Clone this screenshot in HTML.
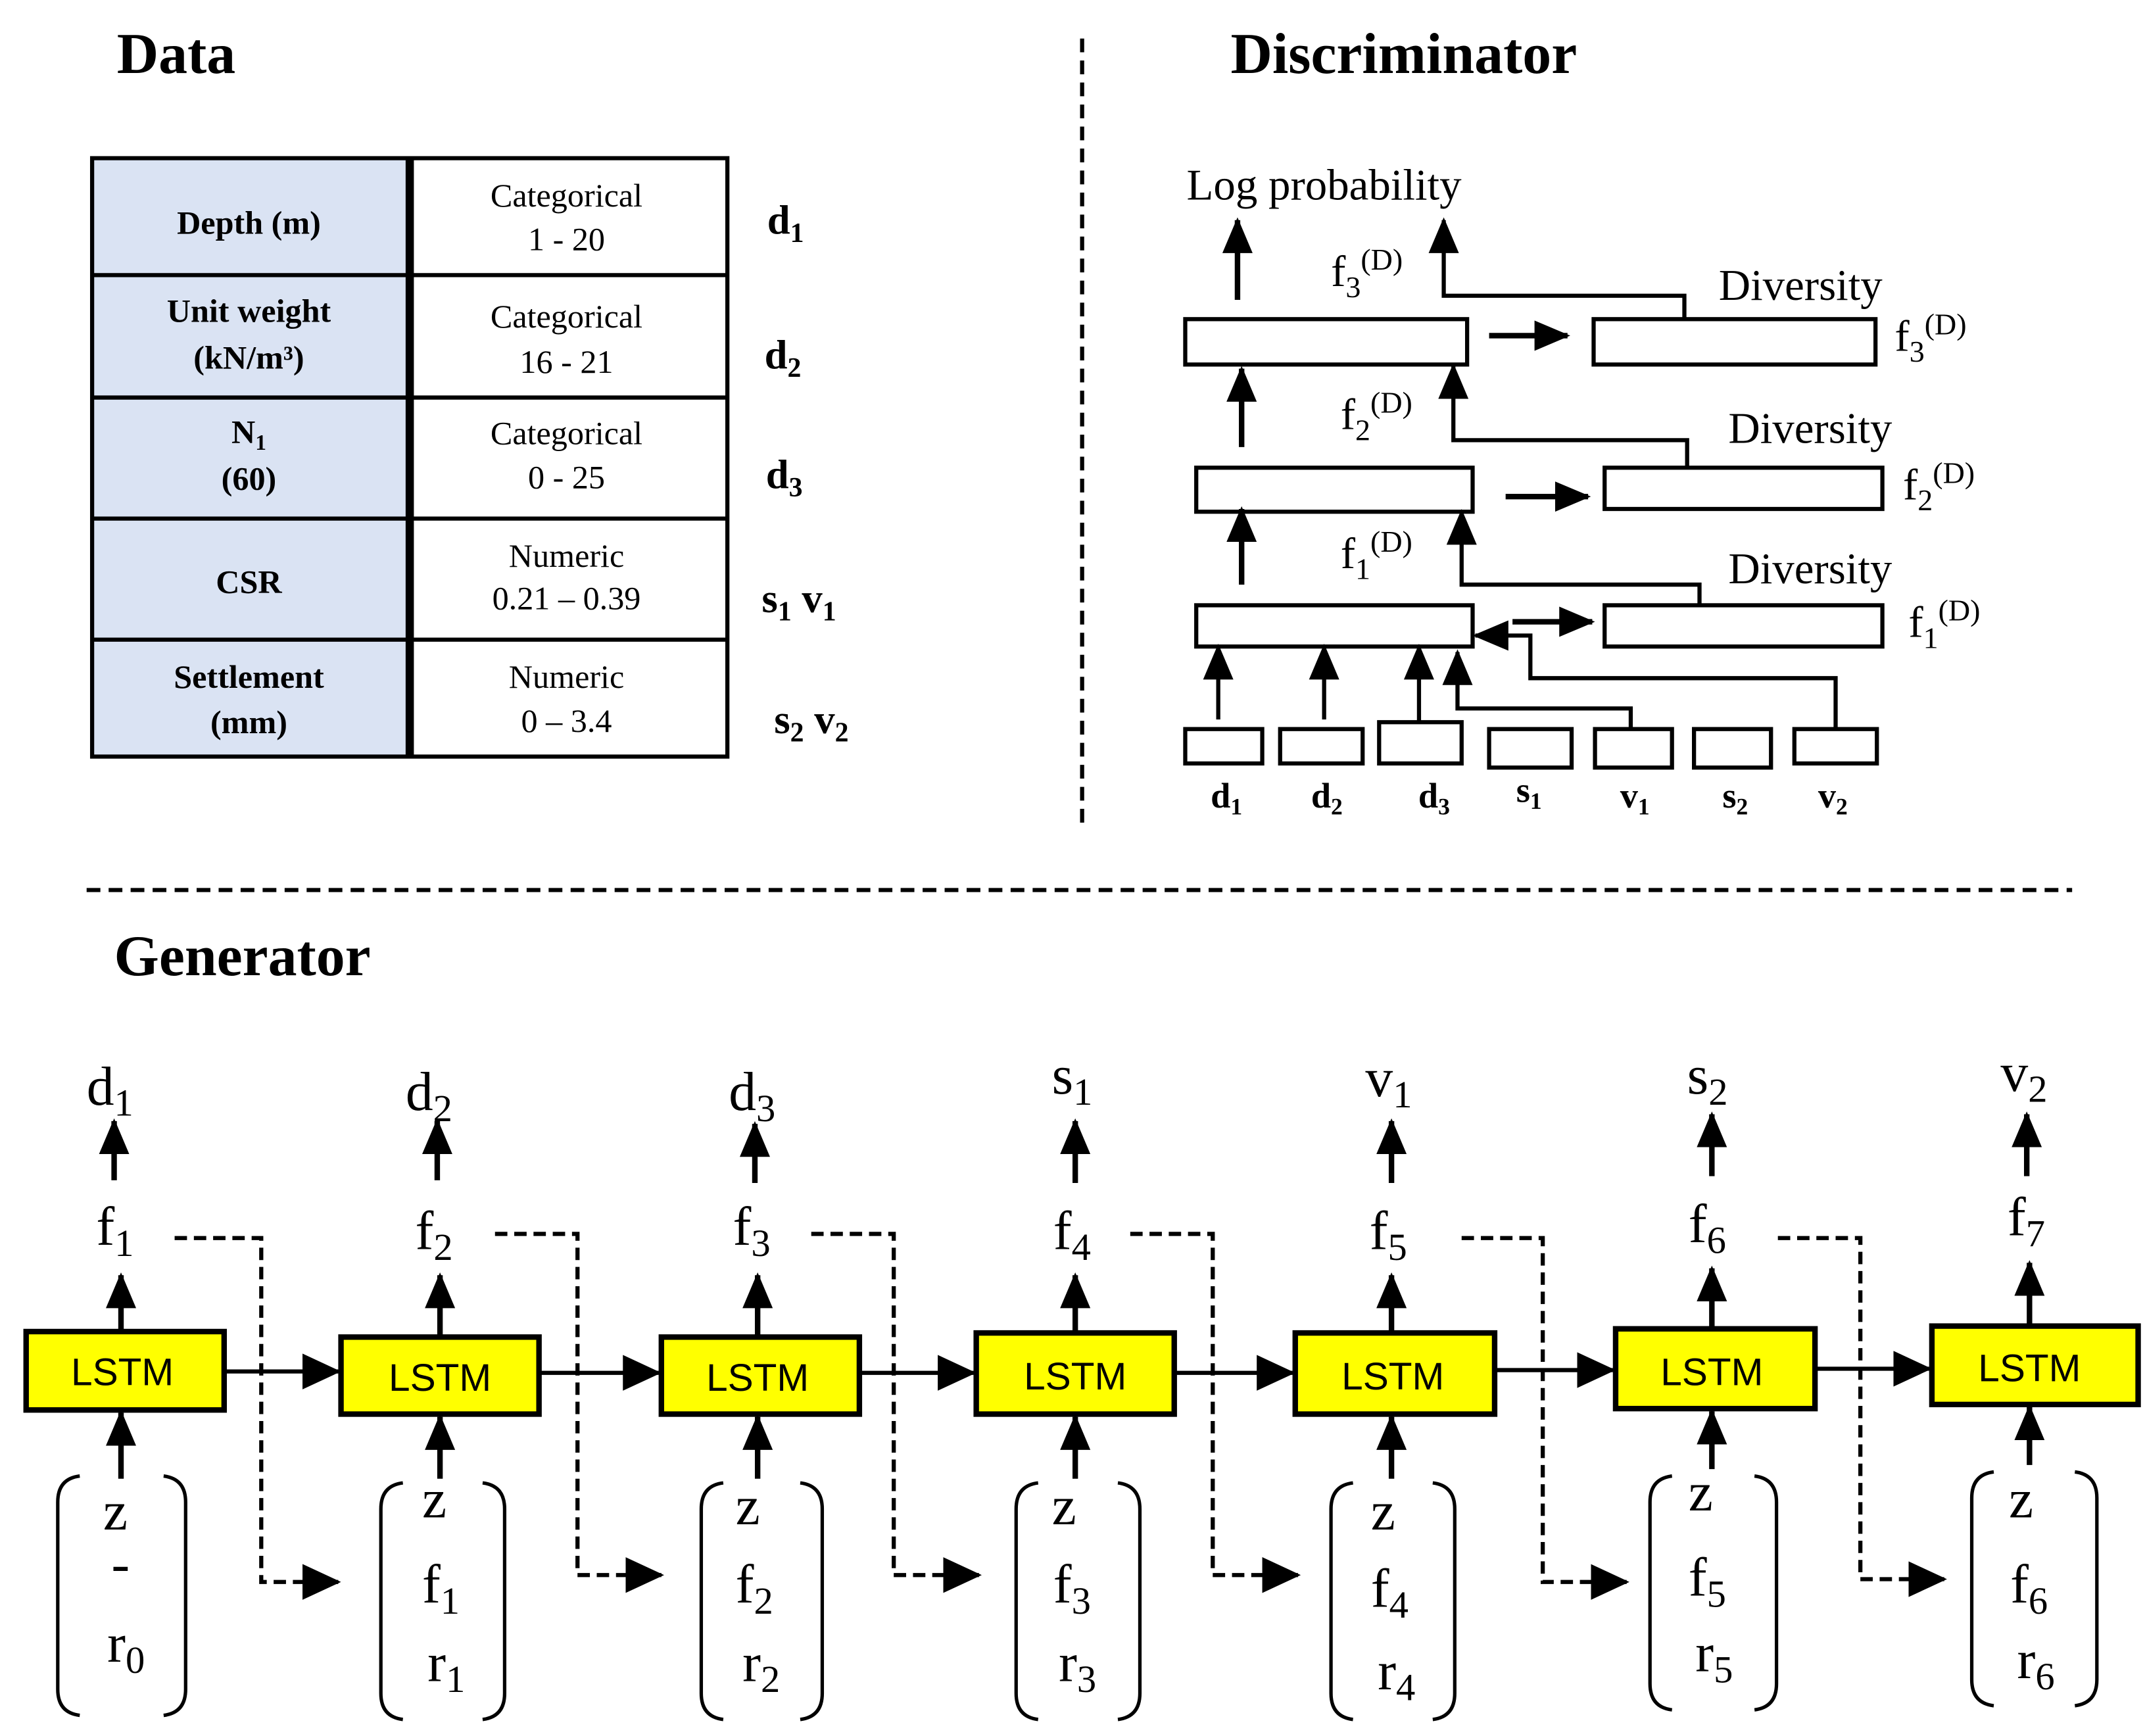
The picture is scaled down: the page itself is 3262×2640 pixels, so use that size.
<!DOCTYPE html>
<html><head><meta charset="utf-8"><style>
html,body{margin:0;padding:0;background:#fff;}
svg{display:block;}
text{font-family:"Liberation Serif","DejaVu Serif",serif;fill:#000;}
.b{font-weight:bold;}
</style></head><body>
<svg width="3262" height="2640" viewBox="0 0 1560 1262" preserveAspectRatio="none" xmlns="http://www.w3.org/2000/svg">
<defs>
<marker id="a" markerUnits="userSpaceOnUse" markerWidth="30" markerHeight="30" refX="26" refY="13" orient="auto"><path d="M0,0 L28,13 L0,26 Z" fill="#000"/></marker>
<marker id="s" markerUnits="userSpaceOnUse" markerWidth="28" markerHeight="26" refX="24" refY="11" orient="auto"><path d="M0,0 L26,11 L0,22 Z" fill="#000"/></marker>
</defs>
<rect width="1560" height="1262" fill="#fff"/>

<!-- Titles -->
<text x="85" y="53" class="b" font-size="42">Data</text>
<text x="895" y="53" class="b" font-size="42">Discriminator</text>
<text x="83" y="709" class="b" font-size="42">Generator</text>

<!-- dashed separators -->
<line x1="787" y1="28" x2="787" y2="603" stroke="#000" stroke-width="3" stroke-dasharray="10,6"/>
<line x1="63" y1="647" x2="1507" y2="647" stroke="#000" stroke-width="3" stroke-dasharray="10,6"/>

<!-- Table -->
<rect x="67" y="115" width="231" height="435" fill="#dae3f3"/>
<rect x="298" y="115" width="231" height="435" fill="#fff"/>
<g stroke="#000" stroke-width="3" fill="none">
<rect x="67" y="115" width="462" height="435"/>
<line x1="298" y1="115" x2="298" y2="550" stroke-width="6"/>
<line x1="67" y1="200" x2="529" y2="200"/>
<line x1="67" y1="289" x2="529" y2="289"/>
<line x1="67" y1="377" x2="529" y2="377"/>
<line x1="67" y1="465" x2="529" y2="465"/>
</g>
<g font-size="24" text-anchor="middle">
<text x="181" y="170" class="b">Depth (m)</text>
<text x="181" y="234" class="b">Unit weight</text>
<text x="181" y="268" class="b">(kN/m³)</text>
<text x="181" y="322" class="b">N<tspan font-size="16" dy="5">1</tspan></text>
<text x="181" y="356" class="b">(60)</text>
<text x="181" y="431" class="b">CSR</text>
<text x="181" y="500" class="b">Settlement</text>
<text x="181" y="533" class="b">(mm)</text>
<text x="412" y="150">Categorical</text>
<text x="412" y="182">1 - 20</text>
<text x="412" y="238">Categorical</text>
<text x="412" y="271">16 - 21</text>
<text x="412" y="323">Categorical</text>
<text x="412" y="355">0 - 25</text>
<text x="412" y="412">Numeric</text>
<text x="412" y="443">0.21 – 0.39</text>
<text x="412" y="500">Numeric</text>
<text x="412" y="532">0 – 3.4</text>
</g>
<g font-size="30" class="b">
<text x="558" y="170" class="b">d<tspan font-size="20" dy="6">1</tspan></text>
<text x="556" y="268" class="b">d<tspan font-size="20" dy="6">2</tspan></text>
<text x="557" y="355" class="b">d<tspan font-size="20" dy="6">3</tspan></text>
<text x="554" y="445" class="b">s<tspan font-size="20" dy="6">1</tspan><tspan dy="-6"> v</tspan><tspan font-size="20" dy="6">1</tspan></text>
<text x="563" y="533" class="b">s<tspan font-size="20" dy="6">2</tspan><tspan dy="-6"> v</tspan><tspan font-size="20" dy="6">2</tspan></text>
</g>

<!-- Discriminator -->
<text x="863" y="145" font-size="32">Log probability</text>
<g stroke="#000" stroke-width="3" fill="#fff">
<rect x="862" y="232" width="205" height="33"/>
<rect x="1159" y="232" width="205" height="33"/>
<rect x="870" y="340" width="201" height="32"/>
<rect x="1167" y="340" width="202" height="30"/>
<rect x="870" y="440" width="201" height="30"/>
<rect x="1167" y="440" width="202" height="30"/>
<rect x="862" y="530" width="56" height="25"/>
<rect x="931" y="530" width="60" height="25"/>
<rect x="1003" y="525" width="60" height="30"/>
<rect x="1083" y="530" width="60" height="28"/>
<rect x="1160" y="530" width="56" height="28"/>
<rect x="1232" y="530" width="56" height="28"/>
<rect x="1305" y="530" width="60" height="25"/>
</g>
<g stroke="#000" stroke-width="4" fill="none">
<line x1="900" y1="218" x2="900" y2="160" marker-end="url(#s)"/>
<polyline points="1225,232 1225,215 1050,215 1050,160" stroke-width="3" marker-end="url(#s)"/>
<line x1="1083" y1="244" x2="1140" y2="244" marker-end="url(#s)"/>
<line x1="903" y1="325" x2="903" y2="268" marker-end="url(#s)"/>
<polyline points="1227,340 1227,320 1057,320 1057,266" stroke-width="3" marker-end="url(#s)"/>
<line x1="1095" y1="361" x2="1155" y2="361" marker-end="url(#s)"/>
<line x1="903" y1="425" x2="903" y2="370" marker-end="url(#s)"/>
<polyline points="1236,440 1236,425 1063,425 1063,372" stroke-width="3" marker-end="url(#s)"/>
<line x1="1100" y1="452" x2="1158" y2="452" marker-end="url(#s)"/>
<line x1="886" y1="523" x2="886" y2="470" stroke-width="3" marker-end="url(#s)"/>
<line x1="963" y1="523" x2="963" y2="470" stroke-width="3" marker-end="url(#s)"/>
<line x1="1032" y1="525" x2="1032" y2="470" stroke-width="3" marker-end="url(#s)"/>
<polyline points="1186,530 1186,515 1060,515 1060,474" stroke-width="3" marker-end="url(#s)"/>
<polyline points="1335,530 1335,493 1113,493 1113,462 1073,462" stroke-width="3" marker-end="url(#s)"/>
</g>
<g font-size="32">
<text x="968" y="208">f<tspan font-size="22" dy="8">3</tspan><tspan font-size="22" dy="-20">(D)</tspan></text>
<text x="1250" y="218">Diversity</text>
<text x="1378" y="255">f<tspan font-size="22" dy="8">3</tspan><tspan font-size="22" dy="-20">(D)</tspan></text>
<text x="975" y="312">f<tspan font-size="22" dy="8">2</tspan><tspan font-size="22" dy="-20">(D)</tspan></text>
<text x="1257" y="322">Diversity</text>
<text x="1384" y="363">f<tspan font-size="22" dy="8">2</tspan><tspan font-size="22" dy="-20">(D)</tspan></text>
<text x="975" y="413">f<tspan font-size="22" dy="8">1</tspan><tspan font-size="22" dy="-20">(D)</tspan></text>
<text x="1257" y="424">Diversity</text>
<text x="1388" y="463">f<tspan font-size="22" dy="8">1</tspan><tspan font-size="22" dy="-20">(D)</tspan></text>
</g>
<g font-size="26" class="b" text-anchor="middle">
<text x="892" y="587" class="b">d<tspan font-size="17" dy="5">1</tspan></text>
<text x="965" y="587" class="b">d<tspan font-size="17" dy="5">2</tspan></text>
<text x="1043" y="587" class="b">d<tspan font-size="17" dy="5">3</tspan></text>
<text x="1112" y="583" class="b">s<tspan font-size="17" dy="5">1</tspan></text>
<text x="1189" y="587" class="b">v<tspan font-size="17" dy="5">1</tspan></text>
<text x="1262" y="587" class="b">s<tspan font-size="17" dy="5">2</tspan></text>
<text x="1333" y="587" class="b">v<tspan font-size="17" dy="5">2</tspan></text>
</g>

<!-- Generator -->
<g stroke="#000" stroke-width="3" fill="none">
<line x1="163" y1="997" x2="246" y2="997" marker-end="url(#a)"/>
<line x1="392" y1="998" x2="479" y2="998" marker-end="url(#a)"/>
<line x1="625" y1="998" x2="708" y2="998" marker-end="url(#a)"/>
<line x1="854" y1="998" x2="940" y2="998" marker-end="url(#a)"/>
<line x1="1087" y1="996" x2="1173" y2="996" marker-end="url(#a)"/>
<line x1="1320" y1="995" x2="1403" y2="995" marker-end="url(#a)"/>
</g>
<g stroke="#000" stroke-width="3" fill="none" stroke-dasharray="9,5">
<polyline points="127,900 190,900 190,1150 246,1150" marker-end="url(#a)"/>
<polyline points="360,897 420,897 420,1145 481,1145" marker-end="url(#a)"/>
<polyline points="590,897 650,897 650,1145 712,1145" marker-end="url(#a)"/>
<polyline points="822,897 882,897 882,1145 944,1145" marker-end="url(#a)"/>
<polyline points="1063,900 1122,900 1122,1150 1183,1150" marker-end="url(#a)"/>
<polyline points="1293,900 1353,900 1353,1148 1414,1148" marker-end="url(#a)"/>
</g>
<g stroke="#000" stroke-width="4" fill="#ffff00">
<rect x="19" y="968" width="144" height="57"/>
<rect x="248" y="972" width="144" height="56"/>
<rect x="481" y="972" width="144" height="56"/>
<rect x="710" y="969" width="144" height="59"/>
<rect x="942" y="969" width="145" height="59"/>
<rect x="1175" y="966" width="145" height="58"/>
<rect x="1405" y="964" width="150" height="57"/>
</g>
<g font-size="28" text-anchor="middle">
<text x="89" y="1007" style="font-family:'Liberation Sans',sans-serif">LSTM</text>
<text x="320" y="1011" style="font-family:'Liberation Sans',sans-serif">LSTM</text>
<text x="551" y="1011" style="font-family:'Liberation Sans',sans-serif">LSTM</text>
<text x="782" y="1010" style="font-family:'Liberation Sans',sans-serif">LSTM</text>
<text x="1013" y="1010" style="font-family:'Liberation Sans',sans-serif">LSTM</text>
<text x="1245" y="1007" style="font-family:'Liberation Sans',sans-serif">LSTM</text>
<text x="1476" y="1004" style="font-family:'Liberation Sans',sans-serif">LSTM</text>
</g>
<g stroke="#000" stroke-width="4" fill="none">
<line x1="88" y1="968" x2="88" y2="927" marker-end="url(#s)"/>
<line x1="320" y1="972" x2="320" y2="927" marker-end="url(#s)"/>
<line x1="551" y1="972" x2="551" y2="927" marker-end="url(#s)"/>
<line x1="782" y1="969" x2="782" y2="927" marker-end="url(#s)"/>
<line x1="1012" y1="969" x2="1012" y2="927" marker-end="url(#s)"/>
<line x1="1245" y1="966" x2="1245" y2="922" marker-end="url(#s)"/>
<line x1="1476" y1="964" x2="1476" y2="918" marker-end="url(#s)"/>
<line x1="83" y1="858" x2="83" y2="815" marker-end="url(#s)"/>
<line x1="318" y1="858" x2="318" y2="815" marker-end="url(#s)"/>
<line x1="549" y1="860" x2="549" y2="817" marker-end="url(#s)"/>
<line x1="782" y1="860" x2="782" y2="815" marker-end="url(#s)"/>
<line x1="1012" y1="860" x2="1012" y2="815" marker-end="url(#s)"/>
<line x1="1245" y1="855" x2="1245" y2="810" marker-end="url(#s)"/>
<line x1="1474" y1="855" x2="1474" y2="810" marker-end="url(#s)"/>
<line x1="88" y1="1075" x2="88" y2="1027" marker-end="url(#s)"/>
<line x1="320" y1="1075" x2="320" y2="1030" marker-end="url(#s)"/>
<line x1="551" y1="1075" x2="551" y2="1030" marker-end="url(#s)"/>
<line x1="782" y1="1075" x2="782" y2="1030" marker-end="url(#s)"/>
<line x1="1012" y1="1075" x2="1012" y2="1030" marker-end="url(#s)"/>
<line x1="1245" y1="1068" x2="1245" y2="1026" marker-end="url(#s)"/>
<line x1="1476" y1="1065" x2="1476" y2="1023" marker-end="url(#s)"/>
</g>
<!-- brackets -->
<g stroke="#000" stroke-width="2.5" fill="none">
<path d="M58,1073 Q42,1075 42,1092 L42,1228 Q42,1245 58,1247 M119,1073 Q135,1075 135,1092 L135,1228 Q135,1245 119,1247"/>
<path d="M293,1078 Q277,1080 277,1097 L277,1231 Q277,1248 293,1250 M351,1078 Q367,1080 367,1097 L367,1231 Q367,1248 351,1250"/>
<path d="M526,1078 Q510,1080 510,1097 L510,1231 Q510,1248 526,1250 M582,1078 Q598,1080 598,1097 L598,1231 Q598,1248 582,1250"/>
<path d="M755,1078 Q739,1080 739,1097 L739,1231 Q739,1248 755,1250 M813,1078 Q829,1080 829,1097 L829,1231 Q829,1248 813,1250"/>
<path d="M984,1078 Q968,1080 968,1097 L968,1231 Q968,1248 984,1250 M1042,1078 Q1058,1080 1058,1097 L1058,1231 Q1058,1248 1042,1250"/>
<path d="M1216,1073 Q1200,1075 1200,1092 L1200,1224 Q1200,1241 1216,1243 M1276,1073 Q1292,1075 1292,1092 L1292,1224 Q1292,1241 1276,1243"/>
<path d="M1450,1070 Q1434,1072 1434,1089 L1434,1221 Q1434,1238 1450,1240 M1509,1070 Q1525,1072 1525,1089 L1525,1221 Q1525,1238 1509,1240"/>
</g>
<g font-size="40">
<text x="63" y="803">d<tspan font-size="28" dy="8">1</tspan></text>
<text x="295" y="807">d<tspan font-size="28" dy="8">2</tspan></text>
<text x="530" y="807">d<tspan font-size="28" dy="8">3</tspan></text>
<text x="765" y="795">s<tspan font-size="28" dy="8">1</tspan></text>
<text x="993" y="797">v<tspan font-size="28" dy="8">1</tspan></text>
<text x="1227" y="795">s<tspan font-size="28" dy="8">2</tspan></text>
<text x="1455" y="793">v<tspan font-size="28" dy="8">2</tspan></text>
<text x="70" y="905">f<tspan font-size="28" dy="8">1</tspan></text>
<text x="302" y="908">f<tspan font-size="28" dy="8">2</tspan></text>
<text x="533" y="905">f<tspan font-size="28" dy="8">3</tspan></text>
<text x="766" y="908">f<tspan font-size="28" dy="8">4</tspan></text>
<text x="996" y="908">f<tspan font-size="28" dy="8">5</tspan></text>
<text x="1228" y="903">f<tspan font-size="28" dy="8">6</tspan></text>
<text x="1460" y="898">f<tspan font-size="28" dy="8">7</tspan></text>
<text x="75" y="1112">z</text><text x="81" y="1150">-</text><text x="78" y="1208">r<tspan font-size="28" dy="8">0</tspan></text>
<text x="307" y="1103">z</text><text x="307" y="1165">f<tspan font-size="28" dy="8">1</tspan></text><text x="311" y="1222">r<tspan font-size="28" dy="8">1</tspan></text>
<text x="535" y="1108">z</text><text x="535" y="1165">f<tspan font-size="28" dy="8">2</tspan></text><text x="540" y="1222">r<tspan font-size="28" dy="8">2</tspan></text>
<text x="765" y="1108">z</text><text x="766" y="1165">f<tspan font-size="28" dy="8">3</tspan></text><text x="770" y="1222">r<tspan font-size="28" dy="8">3</tspan></text>
<text x="997" y="1112">z</text><text x="997" y="1168">f<tspan font-size="28" dy="8">4</tspan></text><text x="1002" y="1228">r<tspan font-size="28" dy="8">4</tspan></text>
<text x="1228" y="1098">z</text><text x="1228" y="1160">f<tspan font-size="28" dy="8">5</tspan></text><text x="1233" y="1215">r<tspan font-size="28" dy="8">5</tspan></text>
<text x="1461" y="1103">z</text><text x="1462" y="1165">f<tspan font-size="28" dy="8">6</tspan></text><text x="1467" y="1220">r<tspan font-size="28" dy="8">6</tspan></text>
</g>
</svg>
</body></html>
